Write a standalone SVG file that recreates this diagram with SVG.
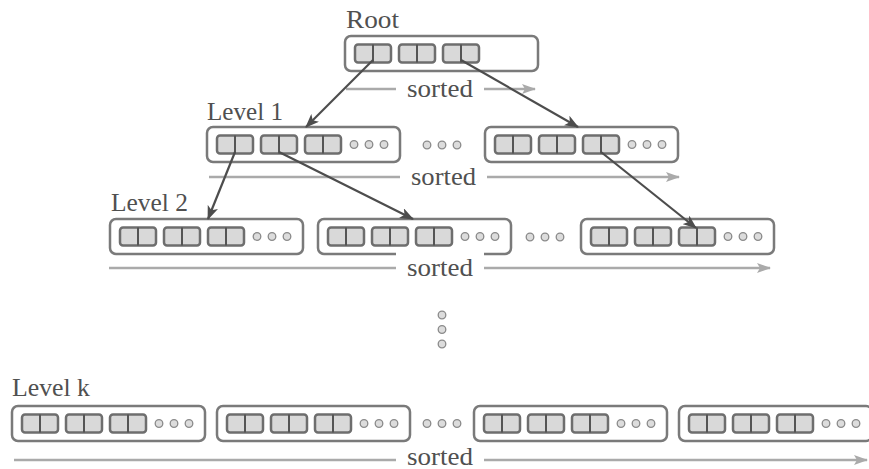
<svg xmlns="http://www.w3.org/2000/svg" xmlns:xlink="http://www.w3.org/1999/xlink" width="869" height="469" viewBox="0 0 869 469">
<style>
.box{fill:#fff;stroke:#7a7a7a;stroke-width:2.5}
.cell{fill:#d9d9d9;stroke:#6e6e6e;stroke-width:2.5}
.div{stroke:#555;stroke-width:2}
.dot{fill:#dcdcdc;stroke:#8a8a8a;stroke-width:1.3}
.lbl{font-family:'Liberation Serif',serif;font-size:25px;fill:#505050}
.sorted{stroke:#aaa;stroke-width:2.5;fill:none}
.edge{stroke:#4d4d4d;stroke-width:2.2;fill:none}
.mask{fill:#fff}
</style>
<defs>
<marker id="ah" viewBox="0 0 14 11" refX="13" refY="5.5" markerWidth="14" markerHeight="11" markerUnits="userSpaceOnUse" orient="auto">
<path d="M0,0 L14,5.5 L0,11 L3.5,5.5 z" fill="#4d4d4d"/>
</marker>
<marker id="ag" viewBox="0 0 14 10" refX="13" refY="5" markerWidth="14" markerHeight="10" markerUnits="userSpaceOnUse" orient="auto">
<path d="M0,0 L14,5 L0,10 L3,5 z" fill="#aaa"/>
</marker>
<g id="cell">
<rect class="cell" x="0" y="0" width="36" height="18" rx="3"/>
<line class="div" x1="18" y1="0" x2="18" y2="18"/>
</g>
<g id="cells3">
<use xlink:href="#cell" x="10" y="8.5"/>
<use xlink:href="#cell" x="54" y="8.5"/>
<use xlink:href="#cell" x="98" y="8.5"/>
</g>
<g id="dots3">
<circle class="dot" cx="0" cy="0" r="3.8"/>
<circle class="dot" cx="15" cy="0" r="3.8"/>
<circle class="dot" cx="30" cy="0" r="3.8"/>
</g>
<g id="page">
<rect class="box" x="0" y="0" width="193" height="35" rx="6"/>
<use xlink:href="#cells3"/>
<use xlink:href="#dots3" x="147" y="17.5"/>
</g>
</defs>
<rect width="869" height="469" fill="#fff"/>

<g id="root">
<text class="lbl" font-family="Liberation Serif, serif" x="346" y="28" textLength="53" lengthAdjust="spacingAndGlyphs">Root</text>
<rect class="box" x="345" y="36" width="193" height="35" rx="6"/>
<use xlink:href="#cells3" x="345" y="36"/>
</g>

<g id="level1">
<text class="lbl" font-family="Liberation Serif, serif" x="207" y="120" textLength="76" lengthAdjust="spacingAndGlyphs">Level 1</text>
<g id="l1-a"><use xlink:href="#page" x="207" y="127"/></g>
<g id="l1-gap"><use xlink:href="#dots3" x="427" y="145"/></g>
<g id="l1-b"><use xlink:href="#page" x="485" y="127"/></g>
</g>

<g id="level2">
<text class="lbl" font-family="Liberation Serif, serif" x="111" y="211" textLength="77" lengthAdjust="spacingAndGlyphs">Level 2</text>
<g id="l2-a"><use xlink:href="#page" x="110" y="219"/></g>
<g id="l2-b"><use xlink:href="#page" x="318" y="219"/></g>
<g id="l2-gap"><use xlink:href="#dots3" x="530" y="237"/></g>
<g id="l2-c"><use xlink:href="#page" x="581" y="219"/></g>
</g>

<g id="vdots">
<circle class="dot" cx="442" cy="315" r="3.8"/>
<circle class="dot" cx="442" cy="329.5" r="3.8"/>
<circle class="dot" cx="442" cy="344" r="3.8"/>
</g>

<g id="levelk">
<text class="lbl" font-family="Liberation Serif, serif" x="12" y="396" textLength="78" lengthAdjust="spacingAndGlyphs">Level k</text>
<g id="lk-a"><use xlink:href="#page" x="12" y="406"/></g>
<g id="lk-b"><use xlink:href="#page" x="217" y="406"/></g>
<g id="lk-gap"><use xlink:href="#dots3" x="427" y="423.5"/></g>
<g id="lk-c"><use xlink:href="#page" x="474" y="406"/></g>
<g id="lk-d"><use xlink:href="#page" x="679" y="406"/></g>
</g>

<g id="sorted-labels">
<g id="sorted-root">
<line class="sorted" x1="346" y1="89" x2="535" y2="89" marker-end="url(#ag)"/>
<rect class="mask" x="396" y="79" width="88" height="23"/>
<text class="lbl" font-family="Liberation Serif, serif" x="407" y="97" textLength="66" lengthAdjust="spacingAndGlyphs">sorted</text>
</g>
<g id="sorted-l1">
<line class="sorted" x1="209" y1="177" x2="679" y2="177" marker-end="url(#ag)"/>
<rect class="mask" x="400" y="166" width="87" height="25"/>
<text class="lbl" font-family="Liberation Serif, serif" x="411" y="185" textLength="65" lengthAdjust="spacingAndGlyphs">sorted</text>
</g>
<g id="sorted-l2">
<line class="sorted" x1="109" y1="268" x2="770" y2="268" marker-end="url(#ag)"/>
<rect class="mask" x="396" y="252" width="88" height="32"/>
<text class="lbl" font-family="Liberation Serif, serif" x="407" y="276" textLength="66" lengthAdjust="spacingAndGlyphs">sorted</text>
</g>
<g id="sorted-lk">
<line class="sorted" x1="14" y1="460" x2="867" y2="460" marker-end="url(#ag)"/>
<rect class="mask" x="396" y="449" width="88" height="20"/>
<text class="lbl" font-family="Liberation Serif, serif" x="407" y="465" textLength="66" lengthAdjust="spacingAndGlyphs">sorted</text>
</g>
</g>

<g id="connectors">
<line class="edge" x1="373" y1="60" x2="306" y2="127" marker-end="url(#ah)"/>
<line class="edge" x1="461" y1="60" x2="578" y2="127" marker-end="url(#ah)"/>
<line class="edge" x1="235" y1="152" x2="208" y2="219" marker-end="url(#ah)"/>
<line class="edge" x1="279" y1="152" x2="413" y2="219" marker-end="url(#ah)"/>
<line class="edge" x1="601" y1="152" x2="696" y2="228" marker-end="url(#ah)"/>
</g>
</svg>
